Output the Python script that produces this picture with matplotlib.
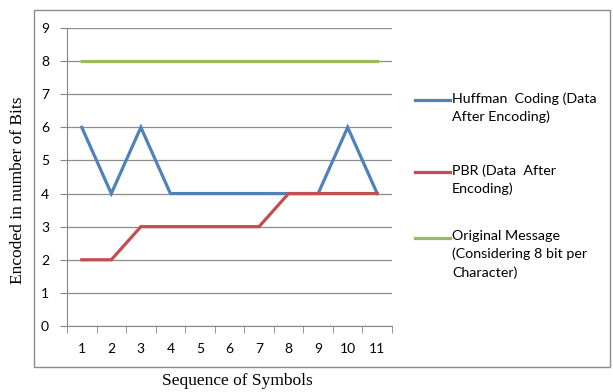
import matplotlib.pyplot as plt
from matplotlib.lines import Line2D
from matplotlib.patches import Rectangle

symbols = [1, 2, 3, 4, 5, 6, 7, 8, 9, 10, 11]
huffman = [6, 4, 6, 4, 4, 4, 4, 4, 4, 6, 4]
pbr = [2, 2, 3, 3, 3, 3, 3, 4, 4, 4, 4]
original = [8, 8, 8, 8, 8, 8, 8, 8, 8, 8, 8]

labels = ["Huffman  Coding (Data\nAfter Encoding)",
          "PBR (Data  After\nEncoding)",
          "Original Message\n(Considering 8 bit per\nCharacter)"]
colors = ["#4F81BD", "#C0504D", "#9BBB59"]

W, H = 613, 392
fig = plt.figure(figsize=(W / 100, H / 100), dpi=100)
ax = fig.add_axes([67 / W, 1 - 326 / H, 325 / W, 298 / H])

ax.plot(symbols, huffman, color=colors[0], lw=2.3, solid_joinstyle='miter', zorder=3)
ax.plot(symbols, pbr, color=colors[1], lw=2.3, solid_joinstyle='miter', zorder=3)
ax.plot(symbols, original, color=colors[2], lw=2.3, zorder=3)

ax.set_xlim(0.5, 11.5)
ax.set_ylim(0, 9)
ax.set_yticks(range(10))
ax.set_xticks(symbols)
ax.set_xticks([s + 0.5 for s in [0] + symbols], minor=True)
ax.tick_params(axis='x', which='major', length=0, pad=12)
ax.tick_params(axis='x', which='minor', length=5, color='#868686')
ax.tick_params(axis='y', length=5, color='#868686', pad=8)
for lab in ax.get_xticklabels() + ax.get_yticklabels():
    lab.set_fontfamily('Lato')
    lab.set_fontsize(10)
ax.grid(axis='y', color='#8C8C8C', lw=0.9)
ax.set_axisbelow(True)
for s in ['top', 'right']:
    ax.spines[s].set_visible(False)
for s in ['left', 'bottom']:
    ax.spines[s].set_color('#868686')

# chart border
fig.add_artist(Rectangle((34 / W, 1 - 367 / H), 576 / W, 357 / H, transform=fig.transFigure,
                         fill=False, edgecolor='#8C8C8C', lw=1))

# legend
leg_y = [100, 172, 238]
for lab, c, y in zip(labels, colors, leg_y):
    fig.add_artist(Line2D([415 / W, 450 / W], [1 - y / H] * 2, color=c, lw=2.3,
                          transform=fig.transFigure))
    fig.text(452 / W, 1 - (y - 8) / H, lab, fontsize=10.3, family='Lato', va='top',
             linespacing=1.55)

fig.text(18 / W, 1 - 190 / H, "Encoded in number of Bits", rotation=90, family='Liberation Serif',
         fontsize=12.5, ha='center', va='center')
fig.text(237 / W, 1 - 381 / H, "Sequence of Symbols", family='Liberation Serif',
         fontsize=12.5, ha='center', va='center')

fig.savefig("out.png", dpi=100)
